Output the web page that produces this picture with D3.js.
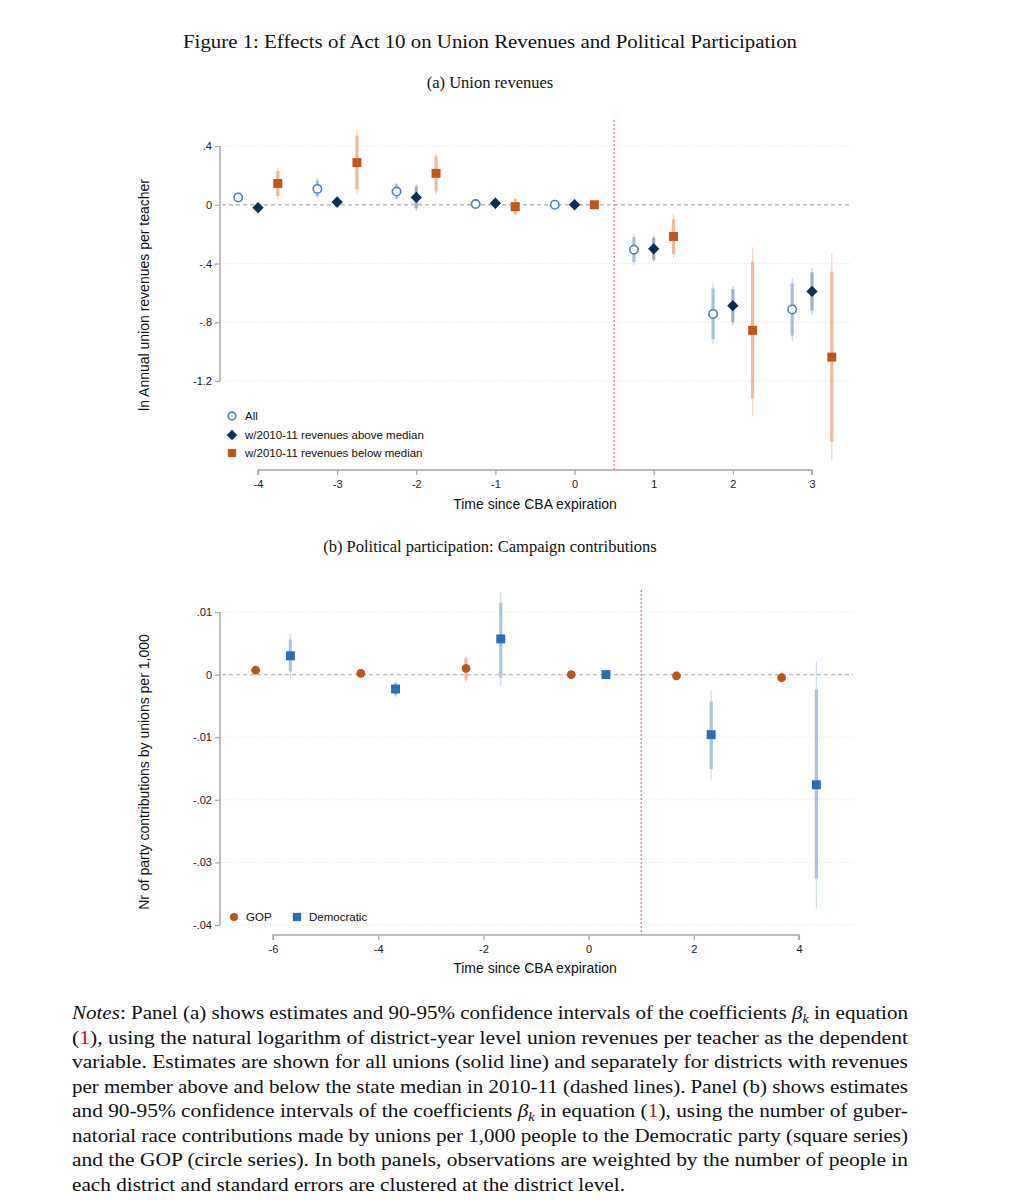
<!DOCTYPE html>
<html><head><meta charset="utf-8">
<script src="https://cdn.jsdelivr.net/npm/d3@7"></script>
<style>body{margin:0;background:#fff}</style>
</head><body>
<svg id="c" width="1017" height="1200"></svg>
<script>
// ---------- Panel (a) data ----------
const aPeriods = [-4,-3,-2,-1,0,1,2,3];
const aXTicks = [-4,-3,-2,-1,0,1,2,3];
const aXTickLabels = ["-4","-3","-2","-1","0","1","2","3"];
const aYTicks = [0.4,0,-0.4,-0.8,-1.2];
const aYTickLabels = [".4","0","-.4","-.8","-1.2"];
const allEst  = [0.05, 0.108, 0.09, 0.005, 0, -0.306, -0.743, -0.713];
const allLo95 = [0.01, 0.04, 0.03, -0.025, 0, -0.41, -0.95, -0.93];
const allHi95 = [0.09, 0.185, 0.15, 0.035, 0, -0.2, -0.535, -0.5];
const allLo90 = [0.02, 0.055, 0.04, -0.02, 0, -0.39, -0.915, -0.89];
const allHi90 = [0.08, 0.165, 0.14, 0.03, 0, -0.22, -0.57, -0.535];
const aboveEst  = [-0.02, 0.018, 0.05, 0.01, 0, -0.3, -0.687, -0.59];
const aboveLo95 = [-0.06, -0.02, -0.04, -0.03, 0, -0.39, -0.82, -0.75];
const aboveHi95 = [0.02, 0.06, 0.14, 0.05, 0, -0.21, -0.555, -0.43];
const aboveLo90 = [-0.05, -0.01, -0.025, -0.02, 0, -0.375, -0.8, -0.72];
const aboveHi90 = [0.01, 0.05, 0.125, 0.04, 0, -0.225, -0.575, -0.46];
const belowEst  = [0.145, 0.287, 0.214, -0.013, 0, -0.216, -0.855, -1.037];
const belowLo95 = [0.04, 0.07, 0.07, -0.075, 0, -0.365, -1.44, -1.74];
const belowHi95 = [0.25, 0.51, 0.35, 0.05, 0, -0.06, -0.29, -0.33];
const belowLo90 = [0.06, 0.105, 0.09, -0.065, 0, -0.335, -1.32, -1.615];
const belowHi90 = [0.23, 0.47, 0.33, 0.04, 0, -0.1, -0.39, -0.455];
const aLegend = ["All","w/2010-11 revenues above median","w/2010-11 revenues below median"];

// ---------- Panel (b) data ----------
const bPeriods = [-6,-4,-2,0,2,4];
const bXTicks = [-6,-4,-2,0,2,4];
const bXTickLabels = ["-6","-4","-2","0","2","4"];
const bYTicks = [0.01,0,-0.01,-0.02,-0.03,-0.04];
const bYTickLabels = [".01","0","-.01","-.02","-.03","-.04"];
const gopEst  = [0.0007, 0.0002, 0.001, 0, -0.0002, -0.0005];
const gopLo95 = [-0.0001, -0.0005, -0.0012, 0, -0.001, -0.0015];
const gopHi95 = [0.0015, 0.0009, 0.003, 0, 0.0006, 0.0006];
const gopLo90 = [0.0001, -0.0003, -0.0008, 0, -0.0008, -0.0012];
const gopHi90 = [0.0013, 0.0007, 0.0026, 0, 0.0004, 0.0003];
const demEst  = [0.003, -0.0023, 0.0057, 0, -0.0096, -0.0176];
const demLo95 = [-0.0005, -0.0036, -0.0019, 0, -0.0168, -0.0374];
const demHi95 = [0.0065, -0.001, 0.0131, 0, -0.0024, 0.0021];
const demLo90 = [0.0005, -0.0033, -0.0005, 0, -0.0151, -0.0326];
const demHi90 = [0.0056, -0.0013, 0.0115, 0, -0.0043, -0.0024];
const bLegend = ["GOP","Democratic"];

// ---------- Text ----------
const figTitle = "Figure 1: Effects of Act 10 on Union Revenues and Political Participation";
const subA = "(a) Union revenues";
const subB = "(b) Political participation: Campaign contributions";
const xTitle = "Time since CBA expiration";
const yTitleA = "ln Annual union revenues per teacher";
const yTitleB = "Nr of party contributions by unions per 1,000";

const svg = d3.select("#c");
const SANS = "'Liberation Sans', Arial, Helvetica, sans-serif";
const SERIF = "'Liberation Serif', 'DejaVu Serif', serif";

svg.append("text").attr("x",490).attr("y",48).attr("text-anchor","middle")
  .attr("font-family",SERIF).attr("font-size",18).attr("fill","#111")
  .attr("textLength",614).attr("lengthAdjust","spacingAndGlyphs").text(figTitle);
svg.append("text").attr("x",490).attr("y",88).attr("text-anchor","middle")
  .attr("font-family",SERIF).attr("font-size",16.5).attr("fill","#111").text(subA);
svg.append("text").attr("x",490).attr("y",552).attr("text-anchor","middle")
  .attr("font-family",SERIF).attr("font-size",16.5).attr("fill","#111").text(subB);

function panel(cfg){
  const g = svg.append("g");
  const x = d3.scaleLinear().domain(cfg.xDomain).range(cfg.xRange);
  const y = d3.scaleLinear().domain(cfg.yDomain).range(cfg.yRange);
  g.selectAll(".grid").data(cfg.yTicks.filter(v=>v!==0)).join("line")
    .attr("x1",cfg.plotL).attr("x2",cfg.plotR).attr("y1",d=>y(d)).attr("y2",d=>y(d))
    .attr("stroke","#e0e0e0").attr("stroke-width",1).attr("stroke-dasharray","1,2");
  g.append("line").attr("x1",cfg.plotL).attr("x2",cfg.plotR).attr("y1",y(0)).attr("y2",y(0))
    .attr("stroke","#bdbdbd").attr("stroke-width",1.3).attr("stroke-dasharray","4,3");
  g.append("line").attr("x1",x(cfg.vline)).attr("x2",x(cfg.vline)).attr("y1",cfg.plotT).attr("y2",cfg.axisY)
    .attr("stroke","#d9534f").attr("stroke-width",1).attr("stroke-dasharray","2,2");
  const ya = d3.axisLeft(y).tickValues(cfg.yTicks).tickSize(5).tickPadding(3)
    .tickFormat((d,i)=>cfg.yTickLabels[i]);
  const yg = g.append("g").attr("transform",`translate(${cfg.axisX},0)`).call(ya);
  const xa = d3.axisBottom(x).tickValues(cfg.xTicks).tickSize(5).tickPadding(5)
    .tickFormat((d,i)=>cfg.xTickLabels[i]);
  const xg = g.append("g").attr("transform",`translate(0,${cfg.axisY})`).call(xa);
  [yg,xg].forEach(a=>{
    a.select(".domain").attr("stroke","#a8a8a8").attr("stroke-width",1.5);
    a.selectAll(".tick line").attr("stroke","#a8a8a8").attr("stroke-width",1.2);
    a.selectAll(".tick text").attr("font-family",SANS).attr("font-size",11).attr("fill","#222");
  });
  xg.select(".domain").attr("d",`M${x(cfg.xTicks[0])},5V0H${x(cfg.xTicks[cfg.xTicks.length-1])}V5`);
  yg.select(".domain").attr("d",`M-0,${y(cfg.yTicks[0])}H0V${y(cfg.yTicks[cfg.yTicks.length-1])}H-0`);
  g.append("text").attr("x",535).attr("y",cfg.xTitleY).attr("text-anchor","middle")
    .attr("font-family",SANS).attr("font-size",14).attr("fill","#111").text(xTitle);
  g.append("text").attr("transform",`translate(149,${cfg.yTitleC}) rotate(-90)`).attr("text-anchor","middle")
    .attr("font-family",SANS).attr("font-size",14).attr("fill","#111").text(cfg.yTitle);
  cfg.series.forEach(s=>{
    const pts = cfg.periods.map((p,i)=>({x:p+s.off, e:s.est[i], l95:s.lo95[i], h95:s.hi95[i], l90:s.lo90[i], h90:s.hi90[i]}));
    const sg = g.append("g");
    sg.selectAll(".c95").data(pts).join("line")
      .attr("x1",d=>x(d.x)).attr("x2",d=>x(d.x)).attr("y1",d=>y(d.l95)).attr("y2",d=>y(d.h95))
      .attr("stroke",s.ci95).attr("stroke-width",1.3);
    sg.selectAll(".c90").data(pts).join("line")
      .attr("x1",d=>x(d.x)).attr("x2",d=>x(d.x)).attr("y1",d=>y(d.l90)).attr("y2",d=>y(d.h90))
      .attr("stroke",s.ci90).attr("stroke-width",3.2);
    sg.selectAll(".m").data(pts).join("path")
      .attr("transform",d=>`translate(${x(d.x)},${y(d.e)}) rotate(${s.rot||0})`)
      .attr("d",d3.symbol().type(s.sym).size(s.size))
      .attr("fill",s.fill).attr("stroke",s.stroke).attr("stroke-width",s.sw);
  });
  cfg.legend.forEach((L,i)=>{
    g.append("path").attr("transform",`translate(${L.mx},${L.y}) rotate(${L.s.rot||0})`)
      .attr("d",d3.symbol().type(L.s.sym).size(L.s.size*0.85))
      .attr("fill",L.s.fill).attr("stroke",L.s.stroke).attr("stroke-width",L.s.sw);
    g.append("text").attr("x",L.tx).attr("y",L.y+4).attr("font-family",SANS).attr("font-size",11.5)
      .attr("fill","#111").text(L.label);
  });
}

const sAll = {off:-0.25, est:allEst, lo95:allLo95, hi95:allHi95, lo90:allLo90, hi90:allHi90,
  ci95:"#c9daee", ci90:"#a5c1e2", sym:d3.symbolCircle, size:55, fill:"#fff", stroke:"#4b80c3", sw:1.6};
const sAbove = {off:0, est:aboveEst, lo95:aboveLo95, hi95:aboveHi95, lo90:aboveLo90, hi90:aboveHi90,
  ci95:"#c3cfdc", ci90:"#9fb1c6", sym:d3.symbolSquare, rot:45, size:64, fill:"#0d2d55", stroke:"none", sw:0};
const sBelow = {off:0.25, est:belowEst, lo95:belowLo95, hi95:belowHi95, lo90:belowLo90, hi90:belowHi90,
  ci95:"#f4d9c6", ci90:"#ecbc9c", sym:d3.symbolSquare, size:80, fill:"#c0561d", stroke:"none", sw:0};

panel({xDomain:[-4,3], xRange:[258,812], yDomain:[0.4,-1.2], yRange:[146,381],
  plotL:222, plotR:852, plotT:120, axisX:220, axisY:470, vline:0.5,
  xTicks:aXTicks, xTickLabels:aXTickLabels, yTicks:aYTicks, yTickLabels:aYTickLabels, periods:aPeriods,
  xTitleY:509, yTitleC:295, yTitle:yTitleA, series:[sAll,sAbove,sBelow],
  legend:[{s:sAll,label:aLegend[0],mx:232,tx:245,y:416},
          {s:sAbove,label:aLegend[1],mx:232,tx:245,y:435},
          {s:sBelow,label:aLegend[2],mx:232,tx:245,y:453}]});

const sGop = {off:-0.33, est:gopEst, lo95:gopLo95, hi95:gopHi95, lo90:gopLo90, hi90:gopHi90,
  ci95:"#f4d9c6", ci90:"#ecbc9c", sym:d3.symbolCircle, size:60, fill:"#b9551f", stroke:"none", sw:0};
const sDem = {off:0.33, est:demEst, lo95:demLo95, hi95:demHi95, lo90:demLo90, hi90:demHi90,
  ci95:"#cfdef0", ci90:"#a9c4e4", sym:d3.symbolSquare, size:80, fill:"#2f6db5", stroke:"none", sw:0};

panel({xDomain:[-6,4], xRange:[273,799], yDomain:[0.01,-0.04], yRange:[612,925],
  plotL:222, plotR:853, plotT:590, axisX:220, axisY:935, vline:1,
  xTicks:bXTicks, xTickLabels:bXTickLabels, yTicks:bYTicks, yTickLabels:bYTickLabels, periods:bPeriods,
  xTitleY:973, yTitleC:772, yTitle:yTitleB, series:[sGop,sDem],
  legend:[{s:sGop,label:bLegend[0],mx:234,tx:246,y:917},
          {s:sDem,label:bLegend[1],mx:297,tx:309,y:917}]});

// ---------- Notes ----------
const RED = "#b5161b";
const noteLines = [
  [{t:"Notes",i:1},{t:": Panel (a) shows estimates and 90-95% confidence intervals of the coefficients "},{t:"β",i:1},{t:"k",i:1,sub:1},{t:" in equation"}],
  [{t:"("},{t:"1",c:RED},{t:"), using the natural logarithm of district-year level union revenues per teacher as the dependent"}],
  [{t:"variable.  Estimates are shown for all unions (solid line) and separately for districts with revenues"}],
  [{t:"per member above and below the state median in 2010-11 (dashed lines). Panel (b) shows estimates"}],
  [{t:"and 90-95% confidence intervals of the coefficients "},{t:"β",i:1},{t:"k",i:1,sub:1},{t:" in equation ("},{t:"1",c:RED},{t:"), using the number of guber-"}],
  [{t:"natorial race contributions made by unions per 1,000 people to the Democratic party (square series)"}],
  [{t:"and the GOP (circle series). In both panels, observations are weighted by the number of people in"}],
  [{t:"each district and standard errors are clustered at the district level."}]
];
const noteWidths = [836,836,836,836,836,836,836,553];
noteLines.forEach((segs,li)=>{
  const t = svg.append("text").attr("x",72).attr("y",1019+li*24.5)
    .attr("font-family",SERIF).attr("font-size",18).attr("fill","#111")
    .attr("textLength",noteWidths[li]).attr("lengthAdjust","spacingAndGlyphs");
  let shifted = false;
  segs.forEach(s=>{
    const ts = t.append("tspan").text(s.t);
    if (s.i) ts.attr("font-style","italic");
    if (s.c) ts.attr("fill",s.c);
    if (s.sub){ ts.attr("dy",4).attr("font-size",12); shifted = true; }
    else if (shifted){ ts.attr("dy",-4); shifted = false; }
  });
});
</script>
</body></html>
